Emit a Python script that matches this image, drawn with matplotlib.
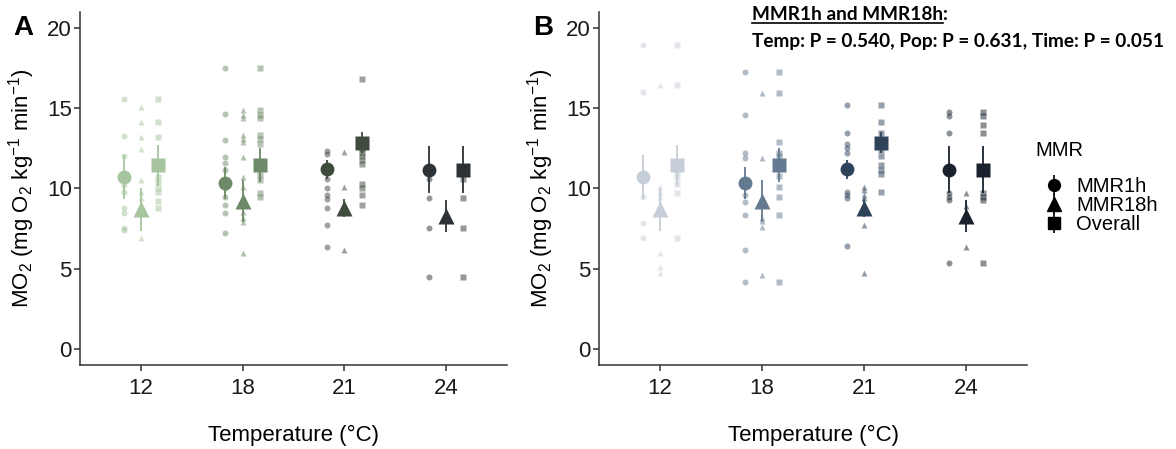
import numpy as np
import matplotlib
matplotlib.use("Agg")
from matplotlib import pyplot as plt

plt.rcParams['font.family'] = ['Liberation Sans', 'DejaVu Sans']
plt.rcParams['mathtext.fontset'] = 'custom'
plt.rcParams['mathtext.rm'] = 'Liberation Sans'
plt.rcParams['mathtext.it'] = 'Liberation Sans:italic'

temps = ['12', '18', '21', '24']
mmr_names = ['MMR1h', 'MMR18h', 'Overall']

# individual fish, panel A (one list per temperature)
a_1h = [[15.56, 13.27, 12.02, 10.74, 10.22, 9.8, 8.77, 8.45, 7.52, 7.4],
        [17.49, 14.62, 13.02, 11.98, 11.56, 11.15, 10.32, 10.0, 9.49, 8.97, 8.45, 7.21],
        [12.36, 12.15, 11.2, 10.6, 10.05, 9.6, 9.33, 8.8, 7.73, 6.37],
        [11.15, 10.57, 9.4, 7.52, 4.5]]
a_18h = [[15.1, 14.17, 13.23, 12.44, 10.53, 9.76, 9.4, 8.77, 6.94],
         [14.89, 14.6, 14.4, 13.33, 13.1, 12.9, 11.98, 10.74, 10.1, 9.28, 8.55, 8.14, 7.9, 5.96],
         [12.25, 10.1, 8.77, 6.17],
         [8.5, 8.2]]
a_all = [[15.56, 14.17, 13.23, 11.46, 10.74, 10.4, 10.0, 9.8, 9.24, 8.77],
         [17.49, 14.89, 14.6, 14.4, 13.33, 13.1, 12.8, 11.46, 10.85, 10.5, 9.7, 9.5],
         [16.8, 12.87, 12.46, 12.2, 12.0, 11.8, 11.55, 10.3, 10.05, 9.6, 8.97],
         [11.15, 10.57, 9.4, 7.52, 4.5]]

# individual fish, panel B
b_1h = [[18.94, 16.03, 10.74, 9.49, 7.87, 6.9],
        [17.28, 14.58, 12.19, 11.9, 10.32, 9.6, 9.18, 8.35, 6.17, 4.19],
        [15.2, 13.48, 12.77, 12.5, 12.23, 11.21, 9.8, 9.6, 9.39, 6.44],
        [14.79, 14.52, 13.48, 11.19, 9.7, 9.5, 9.28, 5.38]]
b_18h = [[16.45, 10.1, 9.8, 9.5, 8.66, 5.96, 5.13, 4.72],
         [15.93, 11.88, 9.18, 8.14, 8.0, 7.62, 4.61],
         [10.1, 9.9, 9.6, 9.4, 8.77, 7.73, 4.72],
         [9.7, 8.9, 8.24, 6.37]]
b_all = [[18.94, 16.45, 11.46, 11.0, 10.7, 10.3, 9.7, 6.9],
         [17.28, 15.93, 12.92, 12.19, 12.0, 11.46, 10.8, 10.1, 9.49, 8.35, 4.19],
         [15.2, 14.12, 13.48, 12.86, 12.4, 12.02, 11.46, 11.15, 10.9, 9.8],
         [14.79, 14.52, 13.96, 13.48, 11.19, 9.7, 9.5, 9.28, 5.38]]

# mean +- SE per temperature
mean_1h = [10.72, 10.32, 11.2, 11.17]
se_1h = [1.35, 1.0, 0.6, 1.45]
mean_18h = [8.7, 9.2, 8.77, 8.3]
se_18h = [1.35, 1.3, 0.55, 1.0]
mean_all = [11.44, 11.46, 12.86, 11.18]
se_all = [1.3, 1.05, 0.64, 1.45]

cols_a = ['#a6c59e', '#6d8967', '#3f4b3d', '#2c3236']
cols_b = ['#c6ced7', '#647a91', '#2e425a', '#19222d']

markers = ['o', '^', 's']
big_ms = [10, 12, 10]
small_ms = [4.3, 4.8, 4.3]
offsets = [-0.17, 0.0, 0.17]


def panel(ax, pts, cols):
    means = [mean_1h, mean_18h, mean_all]
    ses = [se_1h, se_18h, se_all]
    for k in range(3):
        for i in range(len(temps)):
            x = i + 1 + offsets[k]
            y = pts[k][i]
            ax.plot([x] * len(y), y, ls='none', marker=markers[k], ms=small_ms[k],
                    color=cols[i], alpha=0.5, mec='none', zorder=2)
            ax.errorbar(x, means[k][i], yerr=ses[k][i], fmt=markers[k], ms=big_ms[k],
                        color=cols[i], mec='none', elinewidth=1.3, capsize=0, zorder=3)
    ax.set_xlim(0.4, 4.6)
    ax.set_ylim(-1, 21)
    ax.set_xticks([1, 2, 3, 4])
    ax.set_xticklabels(temps)
    ax.set_yticks([0, 5, 10, 15, 20])
    for s in ['top', 'right']:
        ax.spines[s].set_visible(False)
    for s in ['left', 'bottom']:
        ax.spines[s].set_color('#333333')
        ax.spines[s].set_linewidth(1.1)
    ax.tick_params(colors='#333333', labelcolor='#1a1a1a', labelsize=16,
                   length=4, width=1.1)
    ax.tick_params(axis='x', pad=5)
    ax.tick_params(axis='y', pad=2)
    ax.set_xlabel('Temperature (°C)', fontsize=16, labelpad=19)
    ax.set_ylabel(r'MO$_2$ (mg O$_2$ kg$^{-1}$ min$^{-1}$)', fontsize=16, labelpad=7)


fig = plt.figure(figsize=(11.76, 4.49), dpi=100)
axA = fig.add_axes([80 / 1176, 84 / 449, 427 / 1176, 353 / 449])
axB = fig.add_axes([599 / 1176, 84 / 449, 428 / 1176, 353 / 449])

panel(axA, [a_1h, a_18h, a_all], cols_a)
panel(axB, [b_1h, b_18h, b_all], cols_b)

fig.text(13 / 1176, 1 - 28 / 449, 'A', fontsize=20, fontweight='bold', va='center')
fig.text(533 / 1176, 1 - 28 / 449, 'B', fontsize=20, fontweight='bold', va='center')

# legend: black point-range glyphs, title placed on its own
handles = []
for k in range(3):
    h = axB.errorbar([np.nan], [np.nan], yerr=[1], fmt=markers[k], ms=big_ms[k] * 0.85,
                     color='black', elinewidth=1.2, capsize=0)
    handles.append(h)
fig.text(1035 / 1176, 1 - 150 / 449, 'MMR', fontsize=14.5, va='center')
fig.legend(handles, mmr_names, loc='upper left',
           bbox_to_anchor=(1036 / 1176, 1 - 167 / 449), frameon=False,
           fontsize=14.5, handlelength=0.8, handletextpad=0.7,
           labelspacing=0.0, borderpad=0)

# statistics text, first part underlined
t1 = fig.text(752 / 1176, 1 - 14 / 449, 'MMR1h and MMR18h', family='Lato',
              fontweight='bold', fontsize=13.7, va='center')
fig.text(752 / 1176, 1 - 42 / 449, 'Temp: P = 0.540, Pop: P = 0.631, Time: P = 0.051',
         family='Lato', fontweight='bold', fontsize=13.7, va='center')
fig.canvas.draw()
bb = t1.get_window_extent().transformed(fig.transFigure.inverted())
fig.text(bb.x1, 1 - 14 / 449, ':', family='Lato', fontweight='bold', fontsize=13.7,
         va='center')
fig.add_artist(plt.Line2D([bb.x0, bb.x1], [bb.y0 - 0.002, bb.y0 - 0.002],
                          color='black', lw=1.2, transform=fig.transFigure))

fig.savefig('out.png', dpi=100)
